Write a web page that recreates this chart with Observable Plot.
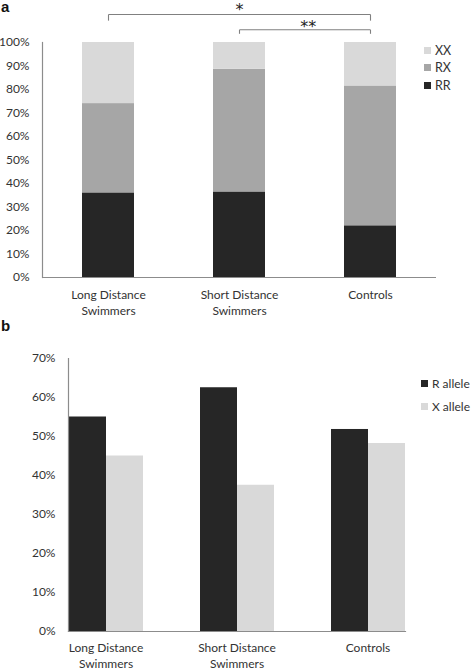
<!DOCTYPE html>
<html><head><meta charset="utf-8">
<script src="https://cdn.jsdelivr.net/npm/d3@7"></script>
<script src="https://cdn.jsdelivr.net/npm/@observablehq/plot@0.6"></script>
<style>
body{margin:0;background:#fff;}
#fig{position:relative;width:472px;height:670px;font-family:Lato,"Open Sans",sans-serif;overflow:hidden;}
.panel{position:absolute;left:0;}
.tag{position:absolute;left:1px;font:bold 15px "Liberation Sans",Arial,sans-serif;color:#111;line-height:12px;}
.leg{position:absolute;color:#333;font-family:Lato,sans-serif;white-space:nowrap;}
.leg .row{display:flex;align-items:center;}
.leg .sw{display:inline-block;width:7px;height:7px;margin-right:4px;}
</style></head><body><div id="fig"></div>
<script>
// ---- data ----
const groups = ["Long Distance Swimmers", "Short Distance Swimmers", "Controls"];
const groupLabels = ["Long Distance\nSwimmers", "Short Distance\nSwimmers", "Controls"];

const genotypes = ["RR", "RX", "XX"];
const genotypeColors = ["#262626", "#a6a6a6", "#d9d9d9"];
const rrShare = [0.36, 0.364, 0.22];
const rxShare = [0.38, 0.522, 0.595];
const xxShare = [0.26, 0.114, 0.185];
const yTicksA = [0, 0.1, 0.2, 0.3, 0.4, 0.5, 0.6, 0.7, 0.8, 0.9, 1.0];

const alleles = ["R allele", "X allele"];
const alleleColors = ["#262626", "#d9d9d9"];
const rAllele = [0.55, 0.625, 0.518];
const xAllele = [0.45, 0.375, 0.482];
const yTicksB = [0, 0.1, 0.2, 0.3, 0.4, 0.5, 0.6, 0.7];

const brackets = [
  {from: "Long Distance Swimmers", to: "Controls", label: "*"},
  {from: "Short Distance Swimmers", to: "Controls", label: "**"}
];

// ---- build ----
const fig = document.getElementById("fig");
const pct = d3.format(".0%");
const labelOf = g => groupLabels[groups.indexOf(g)];
const axisColor = "#8c8c8c";
const textColor = "#333333";
const FS = 12;

const dataA = [];
groups.forEach((g, i) => {
  dataA.push({group: g, genotype: "RR", value: rrShare[i]});
  dataA.push({group: g, genotype: "RX", value: rxShare[i]});
  dataA.push({group: g, genotype: "XX", value: xxShare[i]});
});

const WA = 472, HA = 322, mlA = 42, mrA = 36;
const stepA = (WA - mlA - mrA) / groups.length;
const levels = [1.119, 1.054];
const tickEnds = [1.093, 1.037];
const labelLevels = [1.137, 1.066];

const bracketH = brackets.map((b, i) => ({...b, y: levels[i]}));
const bracketT = brackets.flatMap((b, i) => [
  {x: b.from, y1: levels[i], y2: tickEnds[i]},
  {x: b.to, y1: levels[i], y2: tickEnds[i]}
]);

const plotA = Plot.plot({
  width: WA, height: HA,
  marginLeft: mlA, marginRight: mrA, marginTop: 42, marginBottom: 45,
  style: {fontFamily: "Lato, sans-serif", fontSize: FS + "px", color: textColor, background: "transparent", overflow: "visible"},
  x: {domain: groups, paddingInner: 0.6, paddingOuter: 0.3},
  y: {domain: [0, 1]},
  color: {domain: genotypes, range: genotypeColors},
  marks: [
    Plot.barY(dataA, {x: "group", y: "value", fill: "genotype", order: genotypes}),
    Plot.ruleY([0], {stroke: axisColor, strokeWidth: 1.2}),
    Plot.frame({anchor: "left", stroke: axisColor, strokeWidth: 1.2}),
    Plot.axisY({ticks: yTicksA, tickFormat: pct, tickSize: 0, tickPadding: 13, label: null, fontSize: FS}),
    Plot.axisX({tickSize: 0, tickPadding: 10, tickFormat: labelOf, label: null, lineHeight: 1.33, fontSize: FS}),
    Plot.link(bracketH, {x1: "from", x2: "to", y1: "y", y2: "y", stroke: "#808080", strokeWidth: 1.1}),
    Plot.link(bracketT, {x1: "x", x2: "x", y1: "y1", y2: "y2", stroke: "#808080", strokeWidth: 1.1}),
    Plot.text([brackets[0]], {x: () => groups[1], y: () => labelLevels[0], text: "label",
      fontSize: 16, fontFamily: "DejaVu Sans", fill: "#222"}),
    Plot.text([brackets[1]], {x: () => groups[1], y: () => labelLevels[1], dx: stepA / 2 + 3, text: "label",
      fontSize: 16, fontFamily: "DejaVu Sans", fill: "#222", letterSpacing: 1})
  ]
});
plotA.classList.add("panel");
plotA.style.top = "0px";
fig.appendChild(plotA);

const dataB = [];
groups.forEach((g, i) => {
  dataB.push({group: g, allele: "R allele", value: rAllele[i]});
  dataB.push({group: g, allele: "X allele", value: xAllele[i]});
});

const plotB = Plot.plot({
  width: 472, height: 348,
  marginLeft: 39, marginRight: 39, marginTop: 36, marginBottom: 39,
  style: {fontFamily: "Lato, sans-serif", fontSize: FS + "px", color: textColor, background: "transparent", overflow: "visible"},
  fx: {domain: groups, paddingInner: 0.43, paddingOuter: 0.215},
  x: {domain: alleles, padding: 0, axis: null},
  y: {domain: [0, 0.7]},
  color: {domain: alleles, range: alleleColors},
  marks: [
    Plot.barY(dataB, {fx: "group", x: "allele", y: "value", fill: "allele"}),
    Plot.frame({anchor: "bottom", facet: "super", stroke: axisColor, strokeWidth: 1.2}),
    Plot.frame({anchor: "left", facet: "super", stroke: axisColor, strokeWidth: 1.2}),
    Plot.axisY({ticks: yTicksB, tickFormat: pct, tickSize: 0, tickPadding: 13, label: null, fontSize: FS}),
    Plot.axisFx({anchor: "bottom", tickSize: 0, tickPadding: 9, tickFormat: labelOf, label: null, lineHeight: 1.33, fontSize: FS})
  ]
});
plotB.classList.add("panel");
plotB.style.top = "322px";
fig.appendChild(plotB);

// tags
function tag(t, top) {
  const d = document.createElement("div");
  d.className = "tag"; d.textContent = t; d.style.top = top + "px";
  fig.appendChild(d);
}
tag("a", 1);
tag("b", 320);

// legends
function legend(items, colors, left, top, rowH, fs) {
  const d = document.createElement("div");
  d.className = "leg"; d.style.left = left + "px"; d.style.top = top + "px"; d.style.fontSize = fs + "px";
  items.forEach((it, i) => {
    const r = document.createElement("div");
    r.className = "row"; r.style.height = rowH + "px";
    const s = document.createElement("span");
    s.className = "sw"; s.style.background = colors[i];
    r.appendChild(s);
    r.appendChild(document.createTextNode(it));
    d.appendChild(r);
  });
  fig.appendChild(d);
}
legend(genotypes.slice().reverse(), genotypeColors.slice().reverse(), 424, 41.5, 17.6, 12.5);
legend(alleles, alleleColors, 421, 372, 23, 12);
</script></body></html>
